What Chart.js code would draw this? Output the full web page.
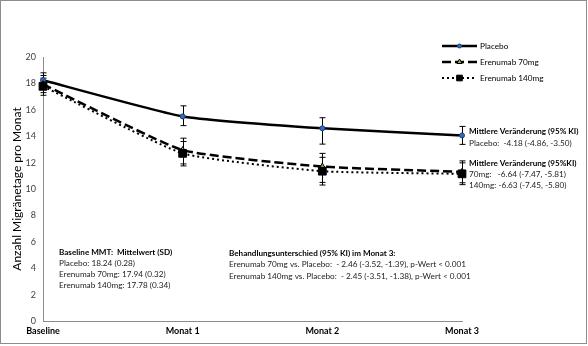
<!DOCTYPE html>
<html>
<head>
<meta charset="utf-8">
<script src="https://cdn.jsdelivr.net/npm/chart.js@4"></script>
<style>
  html, body { margin: 0; padding: 0; background: #fff; }
  #wrap { position: relative; width: 588px; height: 346px; }
</style>
</head>
<body>
<div id="wrap"><canvas id="migraineChart" width="588" height="346"></canvas></div>
<script>
var labels = ['Baseline', 'Monat 1', 'Monat 2', 'Monat 3']
var seriesNames = ['Placebo', 'Erenumab 70mg', 'Erenumab 140mg']

var placebo = [18.24, 15.5, 14.6, 14.06]
var placeboLow = [17.7, 14.8, 13.4, 13.38]
var placeboHigh = [18.8, 16.3, 15.4, 14.74]

var erenumab70 = [17.94, 12.95, 11.7, 11.3]
var erenumab70Low = [17.3, 11.9, 10.5, 10.47]
var erenumab70High = [18.6, 13.85, 12.7, 12.13]

var erenumab140 = [17.78, 12.7, 11.35, 11.15]
var erenumab140Low = [17.1, 11.75, 10.3, 10.33]
var erenumab140High = [18.4, 13.6, 12.4, 11.98]

var yTitle = 'Anzahl Migränetage pro Monat'

var baselineTitle = 'Baseline MMT:  Mittelwert (SD)'
var baselineLines = ['Placebo: 18.24 (0.28)', 'Erenumab 70mg: 17.94 (0.32)', 'Erenumab 140mg: 17.78 (0.34)']

var diffTitle = 'Behandlungsunterschied (95% KI) im Monat 3:'
var diffLines = ['Erenumab 70mg vs. Placebo:  - 2.46 (-3.52, -1.39), p-Wert < 0.001',
                 'Erenumab 140mg vs. Placebo:  - 2.45 (-3.51, -1.38), p-Wert < 0.001']

var placeboChangeTitle = 'Mittlere Veränderung (95% KI)'
var placeboChangeLines = ['Placebo:  -4.18 (-4.86, -3.50)']
var activeChangeTitle = 'Mittlere Veränderung (95%KI)'
var activeChangeLines = ['70mg:   -6.64 (-7.47, -5.81)', '140mg: -6.63 (-7.45, -5.80)']

var FONT = 'Lato, "Open Sans", sans-serif'
var legendRadius = [2, 3, 4]

// error bars + legend + text notes, all drawn on the canvas
var extrasPlugin = {
  id: 'extras',
  beforeDatasetsDraw: function (chart) {
    var ctx = chart.ctx
    var y = chart.scales.y
    ctx.save()
    ctx.strokeStyle = '#000'
    ctx.lineWidth = 1
    chart.data.datasets.forEach(function (ds, i) {
      var meta = chart.getDatasetMeta(i)
      meta.data.forEach(function (pt, j) {
        var x = Math.round(pt.x) + 0.5
        var top = y.getPixelForValue(ds.errHigh[j])
        var bot = y.getPixelForValue(ds.errLow[j])
        ctx.beginPath()
        ctx.moveTo(x, top); ctx.lineTo(x, bot)
        ctx.moveTo(x - 3, top); ctx.lineTo(x + 3, top)
        ctx.moveTo(x - 3, bot); ctx.lineTo(x + 3, bot)
        ctx.stroke()
      })
    })
    ctx.restore()
  },
  afterDraw: function (chart) {
    var ctx = chart.ctx
    ctx.save()

    // frame
    ctx.strokeStyle = '#8c8c8c'
    ctx.lineWidth = 1
    ctx.strokeRect(0.5, 0.5, 586, 343)

    // y title
    ctx.fillStyle = '#000'
    ctx.font = '12px ' + FONT
    ctx.textAlign = 'center'
    ctx.textBaseline = 'middle'
    ctx.translate(17, 189)
    ctx.rotate(-Math.PI / 2)
    ctx.fillText(yTitle, 0, 0)
    ctx.setTransform(1, 0, 0, 1, 0, 0)

    // legend
    ctx.textAlign = 'left'
    chart.data.datasets.forEach(function (ds, i) {
      var ly = 46 + i * 16
      ctx.beginPath()
      ctx.strokeStyle = '#000'
      ctx.lineWidth = ds.borderWidth
      ctx.setLineDash(ds.borderDash || [])
      ctx.moveTo(442, ly); ctx.lineTo(477, ly)
      ctx.stroke()
      ctx.setLineDash([])
      ctx.fillStyle = ds.pointBackgroundColor
      ctx.strokeStyle = ds.pointBorderColor
      ctx.lineWidth = 1
      Chart.helpers.drawPoint(ctx, {
        pointStyle: ds.pointStyle, radius: legendRadius[i], borderWidth: 1
      }, 459.5, ly)
      ctx.fillStyle = '#000'
      ctx.font = '8.2px ' + FONT
      ctx.fillText(ds.label, 480, ly)
    })

    function note(x, y, title, lines, step) {
      ctx.textAlign = 'left'
      ctx.textBaseline = 'middle'
      ctx.fillStyle = '#000'
      ctx.font = 'bold 8.1px ' + FONT
      ctx.fillText(title, x, y)
      ctx.font = '8.2px ' + FONT
      ctx.fillStyle = '#222'
      lines.forEach(function (t, k) {
        ctx.fillText(t, x, y + (k + 1) * step)
      })
    }
    note(59, 252, baselineTitle, baselineLines, 11)
    note(229, 253, diffTitle, diffLines, 11.5)
    note(469, 131, placeboChangeTitle, placeboChangeLines, 12)
    note(469, 163, activeChangeTitle, activeChangeLines, 11)

    ctx.restore()
  }
}

var ctx = document.getElementById('migraineChart').getContext('2d')
new Chart(ctx, {
  type: 'line',
  data: {
    labels: labels,
    datasets: [
      {
        label: seriesNames[0], data: placebo, errLow: placeboLow, errHigh: placeboHigh,
        borderColor: '#000', borderWidth: 2.5, tension: 0.15,
        pointStyle: 'circle', pointRadius: 2.5,
        pointBackgroundColor: '#2e6fc4', pointBorderColor: '#1f3f77', pointBorderWidth: 1,
        order: 3
      },
      {
        label: seriesNames[1], data: erenumab70, errLow: erenumab70Low, errHigh: erenumab70High,
        borderColor: '#000', borderWidth: 2.5, borderDash: [9, 4], tension: 0.15,
        pointStyle: 'triangle', pointRadius: 3.5,
        pointBackgroundColor: '#8cc63f', pointBorderColor: '#000', pointBorderWidth: 1,
        order: 2
      },
      {
        label: seriesNames[2], data: erenumab140, errLow: erenumab140Low, errHigh: erenumab140High,
        borderColor: '#000', borderWidth: 2, borderDash: [2, 3], tension: 0.15,
        pointStyle: 'rect', pointRadius: 5.5,
        pointBackgroundColor: '#000', pointBorderColor: '#000', pointBorderWidth: 1,
        order: 1
      }
    ]
  },
  options: {
    responsive: false,
    animation: false,
    layout: { padding: { left: 0, right: 126, top: 57, bottom: 0 } },
    plugins: {
      legend: { display: false },
      tooltip: { enabled: false }
    },
    scales: {
      x: {
        offset: false,
        afterFit: function (s) { s.height = 25 },
        grid: { display: false, drawTicks: true, tickLength: 3, color: '#8c8c8c' },
        border: { color: '#8c8c8c' },
        ticks: { color: '#000', font: { family: FONT, size: 9, weight: 'bold' }, padding: 2, maxRotation: 0 }
      },
      y: {
        min: 0, max: 20,
        afterFit: function (s) { s.width = 43 },
        grid: { display: false, drawTicks: true, tickLength: 4, color: '#8c8c8c' },
        border: { color: '#8c8c8c' },
        ticks: { stepSize: 2, color: '#404040', font: { family: FONT, size: 9 }, padding: 3 }
      }
    }
  },
  plugins: [extrasPlugin]
})
</script>
</body>
</html>
